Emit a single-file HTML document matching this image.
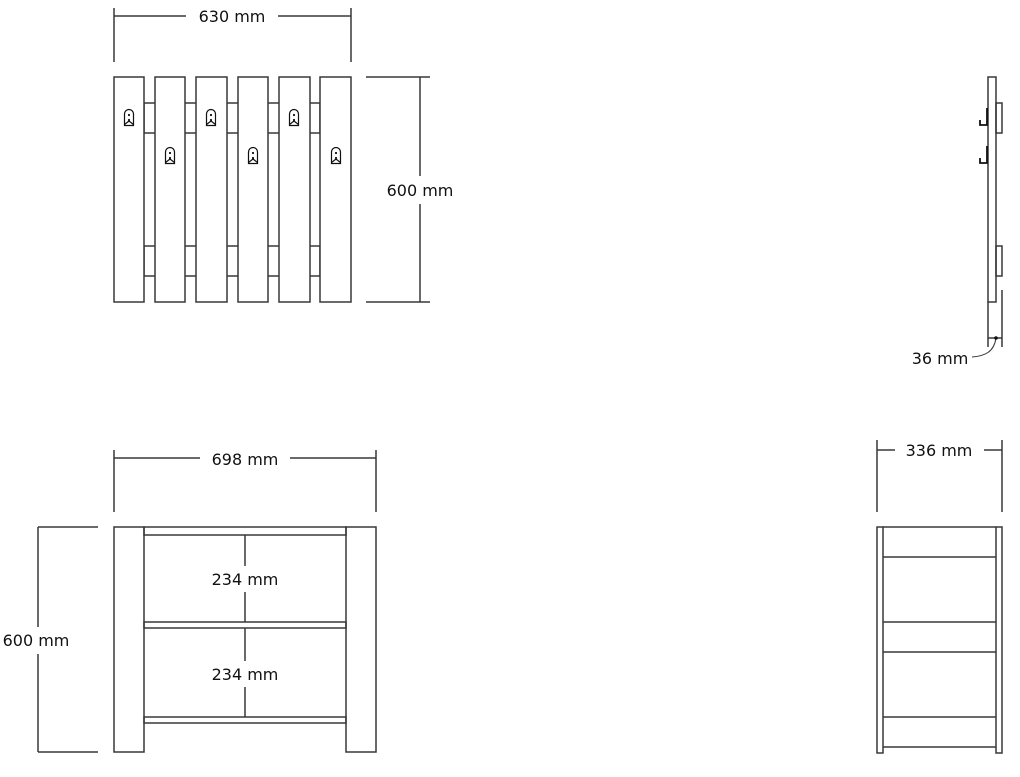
<!DOCTYPE html>
<html><head><style>
html,body{margin:0;padding:0;background:#fff;}
svg{display:block;}
text{font-family:"DejaVu Sans","Liberation Sans",sans-serif;font-size:16px;fill:#111;}
</style></head><body>
<svg width="1020" height="777" viewBox="0 0 1020 777" xmlns="http://www.w3.org/2000/svg">
<defs>
<g id="hk">
<path d="M-4.5,8.5 V-3 A4.5,4.5 0 0 1 4.5,-3 V8.5 Z" fill="none" stroke="#111" stroke-width="1.2"/>
<circle cx="0" cy="-2" r="1.1" fill="#111"/>
<circle cx="0" cy="3" r="1.1" fill="#111"/>
<path d="M-4.5,7.5 L0,4 L4.5,7.5" fill="none" stroke="#111" stroke-width="1.2"/>
</g>
</defs>
<g fill="none" stroke="#383838" stroke-width="1.5">
<rect x="144" y="103" width="176" height="30"/>
<rect x="144" y="246" width="176" height="30"/>
<g fill="#fff">
<rect x="114" y="77" width="30" height="225"/>
<rect x="155" y="77" width="30" height="225"/>
<rect x="196" y="77" width="31" height="225"/>
<rect x="238" y="77" width="30" height="225"/>
<rect x="279" y="77" width="31" height="225"/>
<rect x="320" y="77" width="31" height="225"/>
</g>
<line x1="114" y1="8" x2="114" y2="62"/>
<line x1="351" y1="8" x2="351" y2="62"/>
<line x1="114" y1="16" x2="186" y2="16"/>
<line x1="278" y1="16" x2="351" y2="16"/>
<line x1="366" y1="77" x2="430" y2="77"/>
<line x1="366" y1="302" x2="430" y2="302"/>
<line x1="420" y1="77" x2="420" y2="176"/>
<line x1="420" y1="204" x2="420" y2="302"/>

<rect x="988" y="77" width="8" height="225"/>
<rect x="996" y="103" width="6" height="30"/>
<rect x="996" y="246" width="6" height="30"/>
<line x1="988" y1="302" x2="988" y2="347"/>
<line x1="1002" y1="290" x2="1002" y2="347"/>
<line x1="988" y1="338" x2="1002" y2="338"/>
<path d="M996,338 C994,352 985,356 972,357" stroke-width="1"/>
<path d="M987,108 V125 H980 V120" stroke="#111" stroke-width="1.8"/>
<path d="M987,146 V163 H980 V158" stroke="#111" stroke-width="1.8"/>

<line x1="114" y1="450" x2="114" y2="512"/>
<line x1="376" y1="450" x2="376" y2="512"/>
<line x1="114" y1="458" x2="200" y2="458"/>
<line x1="290" y1="458" x2="376" y2="458"/>
<rect x="114" y="527" width="30" height="225"/>
<rect x="346" y="527" width="30" height="225"/>
<rect x="144" y="527" width="202" height="8"/>
<rect x="144" y="622" width="202" height="6"/>
<rect x="144" y="717" width="202" height="6"/>
<line x1="245" y1="535" x2="245" y2="566"/>
<line x1="245" y1="592" x2="245" y2="622"/>
<line x1="245" y1="628" x2="245" y2="661"/>
<line x1="245" y1="687" x2="245" y2="717"/>
<line x1="38" y1="527" x2="98" y2="527"/>
<line x1="38" y1="752" x2="98" y2="752"/>
<line x1="38" y1="527" x2="38" y2="627"/>
<line x1="38" y1="654" x2="38" y2="752"/>

<line x1="877" y1="440" x2="877" y2="512"/>
<line x1="1002" y1="440" x2="1002" y2="512"/>
<line x1="877" y1="450" x2="895" y2="450"/>
<line x1="984" y1="450" x2="1002" y2="450"/>
<rect x="877" y="527" width="6" height="226"/>
<rect x="996" y="527" width="6" height="226"/>
<line x1="883" y1="527" x2="996" y2="527"/>
<line x1="883" y1="557" x2="996" y2="557"/>
<line x1="883" y1="622" x2="996" y2="622"/>
<line x1="883" y1="652" x2="996" y2="652"/>
<line x1="883" y1="717" x2="996" y2="717"/>
<line x1="883" y1="747" x2="996" y2="747"/>
</g>
<use href="#hk" x="129" y="117"/>
<use href="#hk" x="211" y="117"/>
<use href="#hk" x="294" y="117"/>
<use href="#hk" x="170" y="155"/>
<use href="#hk" x="253" y="155"/>
<use href="#hk" x="336" y="155"/>
<circle cx="996" cy="338" r="1.8" fill="#111"/>
<text x="232" y="22" text-anchor="middle">630 mm</text>
<text x="420" y="196" text-anchor="middle">600 mm</text>
<text x="940" y="364" text-anchor="middle">36 mm</text>
<text x="245" y="465" text-anchor="middle">698 mm</text>
<text x="245" y="585" text-anchor="middle">234 mm</text>
<text x="245" y="680" text-anchor="middle">234 mm</text>
<text x="36" y="646" text-anchor="middle">600 mm</text>
<text x="939" y="456" text-anchor="middle">336 mm</text>
</svg>
</body></html>
